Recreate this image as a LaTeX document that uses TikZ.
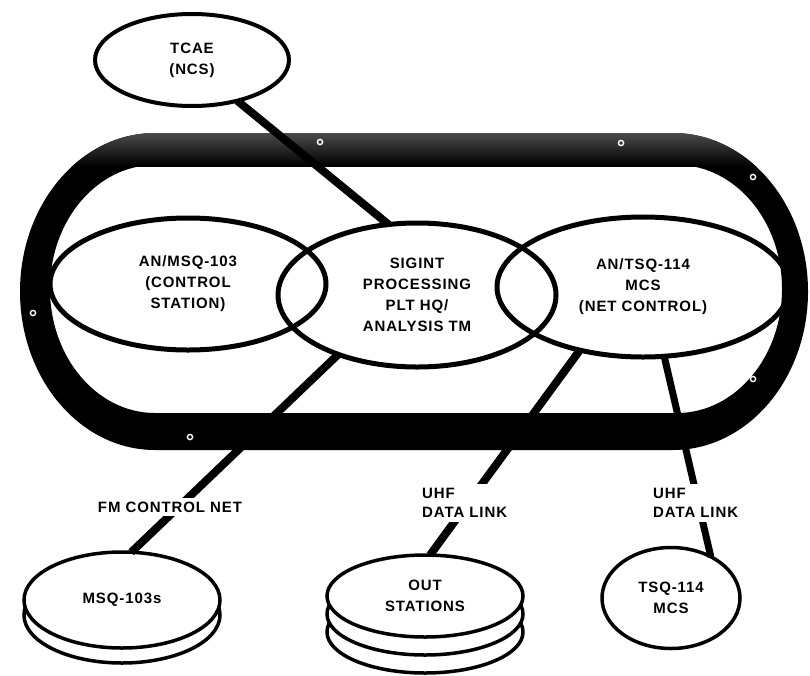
\documentclass[tikz,border=0pt]{standalone}
\usepackage{fontspec}
\setmainfont{Liberation Sans}
\newfontfamily\lbl[LetterSpace=6, BoldFont={Liberation Sans Bold}]{Liberation Sans}
\usetikzlibrary{shapes.geometric}
\begin{document}
\begin{tikzpicture}[x=1pt,y=-1pt,
  txt/.style={font=\lbl\bfseries\fontsize{15}{21}\selectfont, align=center},
  bigell/.style={ellipse, draw, line width=5pt, inner sep=0pt, outer sep=0pt, txt},
  disc/.style={ellipse, draw, line width=3.5pt, fill=white, inner sep=0pt, outer sep=0pt, txt},
  link/.style={line width=8pt},
  lab/.style={font=\lbl\bfseries\fontsize{15}{19}\selectfont, fill=white, inner sep=4pt, align=left},
  ringdot/.style={draw=white, line width=1.4pt}
]
\useasboundingbox (0,0) rectangle (810,675);
% ring
\fill[black, even odd rule]
  (155,133) -- (673,133) arc[start angle=-90, end angle=90, x radius=135, y radius=158.5]
  -- (155,450) arc[start angle=90, end angle=270, x radius=135, y radius=158.5] -- cycle
  (155,165) -- (677,165) arc[start angle=-90, end angle=90, x radius=105, y radius=124]
  -- (155,413) arc[start angle=90, end angle=270, x radius=105, y radius=124] -- cycle;
\begin{scope}
  \clip (155,133) -- (673,133) arc[start angle=-90, end angle=90, x radius=135, y radius=158.5]
  -- (155,450) arc[start angle=90, end angle=270, x radius=135, y radius=158.5] -- cycle;
  \shade[top color=black!68, bottom color=black] (0,130) rectangle (810,166);
\end{scope}
\foreach \p in {(33,313),(753,177),(753,379),(190,437),(320,142),(621,143)}
  \draw[ringdot] \p circle[radius=2.6];

% top node
\node[bigell, line width=4pt, minimum width=194pt, minimum height=92pt] (tcae) at (192,60) {TCAE\\(NCS)};
% three central ellipses
\node[bigell, minimum width=276pt, minimum height=132pt] (msqc) at (188,284) {AN/MSQ-103\\(CONTROL\\STATION)};
\node[bigell, minimum width=278pt, minimum height=144pt] (sig) at (417,295) {SIGINT\\PROCESSING\\PLT HQ/\\ANALYSIS TM};
\node[bigell, minimum width=292pt, minimum height=140pt] (tsqc) at (643,287) {AN/TSQ-114\\MCS\\(NET CONTROL)};

% bottom stacks
\node[disc, minimum width=196pt, minimum height=96pt] (msqb) at (122,615) {};
\node[disc, minimum width=196pt, minimum height=96pt] (msq) at (122,600) {MSQ-103s};
\node[disc, minimum width=196pt, minimum height=82pt] (outc) at (425,632) {};
\node[disc, minimum width=196pt, minimum height=82pt] (outb) at (425,614) {};
\node[disc, minimum width=196pt, minimum height=82pt] (out) at (425,596) {OUT\\STATIONS};
\node[disc, minimum width=138pt, minimum height=101pt] (tsq) at (671,598) {TSQ-114\\MCS};

% connectors
\draw[link] (tcae.-42) -- (sig.112);
\draw[link] (sig.-143) -- (msq.79);
\draw[link] (tsqc.-135) -- (out.83);
\draw[link, line width=7pt] (tsqc.-73) -- (tsq.46);

% labels
\node[lab] (l1) at (170,507) {FM CONTROL NET};
\node[lab, anchor=west] (l2) at (418,503) {UHF\\DATA LINK};
\node[lab, anchor=west] (l3) at (649,503) {UHF\\DATA LINK};
\end{tikzpicture}
\end{document}
